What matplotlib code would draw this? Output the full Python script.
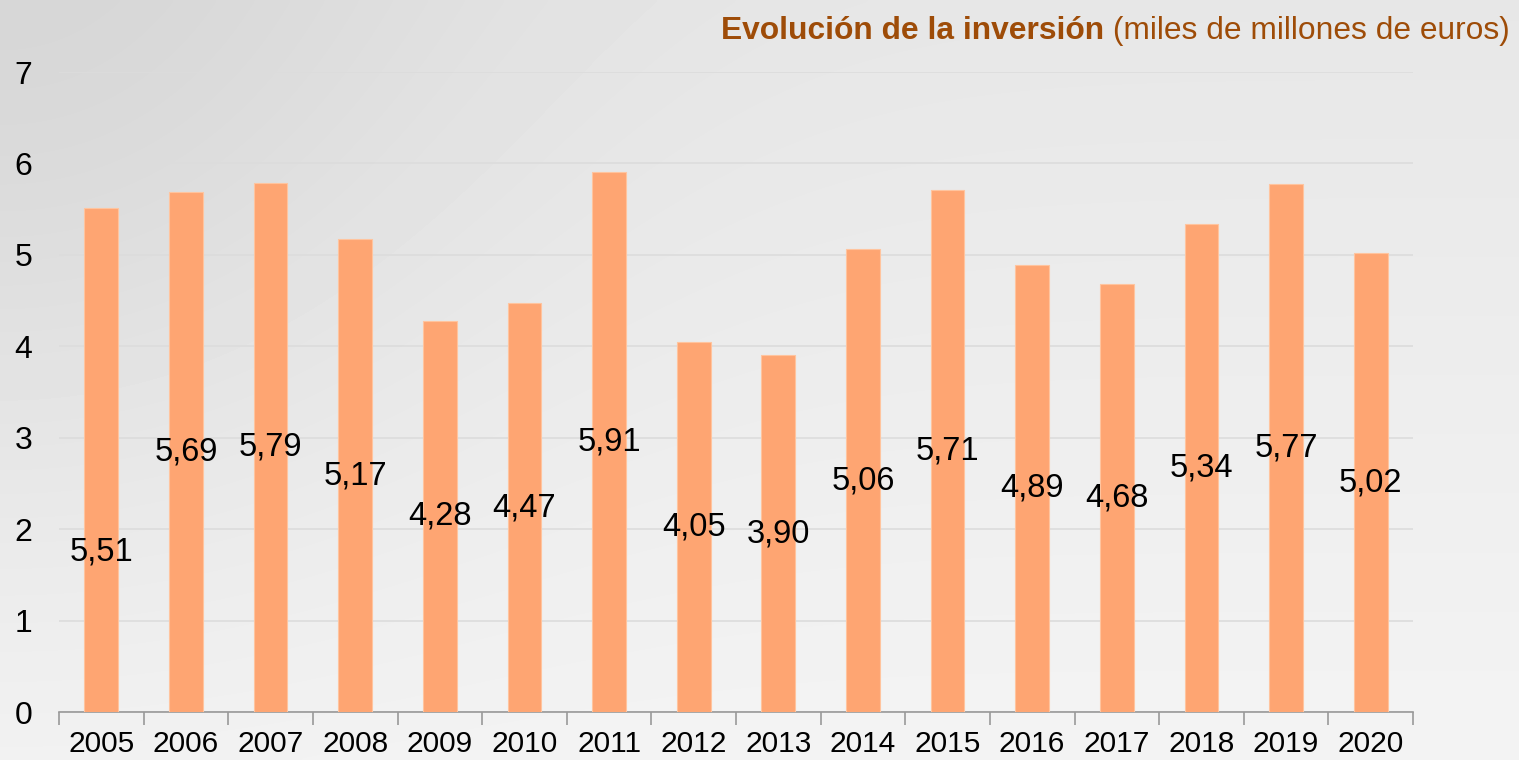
import numpy as np
import matplotlib
matplotlib.use('Agg')
import matplotlib.pyplot as plt

plt.rcParams['font.family'] = ['Liberation Sans', 'DejaVu Sans']

years = ['2005', '2006', '2007', '2008', '2009', '2010', '2011', '2012',
         '2013', '2014', '2015', '2016', '2017', '2018', '2019', '2020']
investment = [5.51, 5.69, 5.79, 5.17, 4.28, 4.47, 5.91, 4.05,
              3.90, 5.06, 5.71, 4.89, 4.68, 5.34, 5.77, 5.02]
y_ticks = [0, 1, 2, 3, 4, 5, 6, 7]

title_bold = 'Evolución de la inversión'
title_normal = ' (miles de millones de euros)'

bar_color = '#FEA572'
title_color = '#9E4C08'

fig = plt.figure(figsize=(15.19, 7.6), dpi=100)

# gray gradient background, darker at the top left
bg = fig.add_axes([0, 0, 1, 1], zorder=-10)
gx, gy = np.meshgrid(np.linspace(0, 1, 400), np.linspace(0, 1, 200))
shade = 0.905 + 0.05 * gy - 0.065 * np.exp(-((gx / 0.32) ** 2 + (gy / 0.7) ** 2))
bg.imshow(shade, cmap='gray', vmin=0, vmax=1, aspect='auto',
          extent=[0, 1, 1, 0], interpolation='bicubic')
bg.axis('off')

ax = fig.add_axes([59 / 1519, 1 - 712 / 760, (1413 - 59) / 1519, (712 - 72) / 760])
ax.set_facecolor('none')

x = np.arange(len(years))
ax.bar(x, investment, width=0.4, color=bar_color, edgecolor='#FFC49E',
       linewidth=0.8, zorder=3)

# value labels, mostly in the middle of each bar
label_shift = [-1.0] + [0.0] * (len(years) - 1)
for xi, v, s in zip(x, investment, label_shift):
    ax.text(xi, v / 2 + s, f'{v:.2f}'.replace('.', ','), ha='center', va='center',
            fontsize=23.5, color='black', zorder=4)

ax.set_xlim(-0.5, len(years) - 0.5)
ax.set_ylim(0, 7)
ax.set_yticks(y_ticks)
ax.yaxis.grid(True, color='#DCDCDC', linewidth=1.2, zorder=0)
ax.set_axisbelow(True)

ax.set_xticks(x)
ax.set_xticklabels(years)
ax.set_xticks(np.arange(-0.5, len(years)), minor=True)
ax.tick_params(axis='x', which='major', length=0, labelsize=21.5, pad=13)
ax.tick_params(axis='x', which='minor', length=9, color='#999999', width=1.2)
ax.tick_params(axis='y', length=0, labelsize=23, pad=19.4)

for side in ['top', 'right', 'left']:
    ax.spines[side].set_visible(False)
ax.spines['bottom'].set_color('#999999')
ax.spines['bottom'].set_linewidth(1.2)

# two-part title, right aligned at the top
t_norm = fig.text(1510 / 1519, 1 - 39 / 760, title_normal, ha='right', va='baseline',
                  fontsize=22.9, color=title_color)
fig.canvas.draw()
bb = t_norm.get_window_extent()
fig.text(bb.x0 / fig.bbox.width, 1 - 39 / 760, title_bold, ha='right', va='baseline',
         fontsize=22.9, color=title_color, fontweight='bold')

fig.savefig('out.png', dpi=100)
